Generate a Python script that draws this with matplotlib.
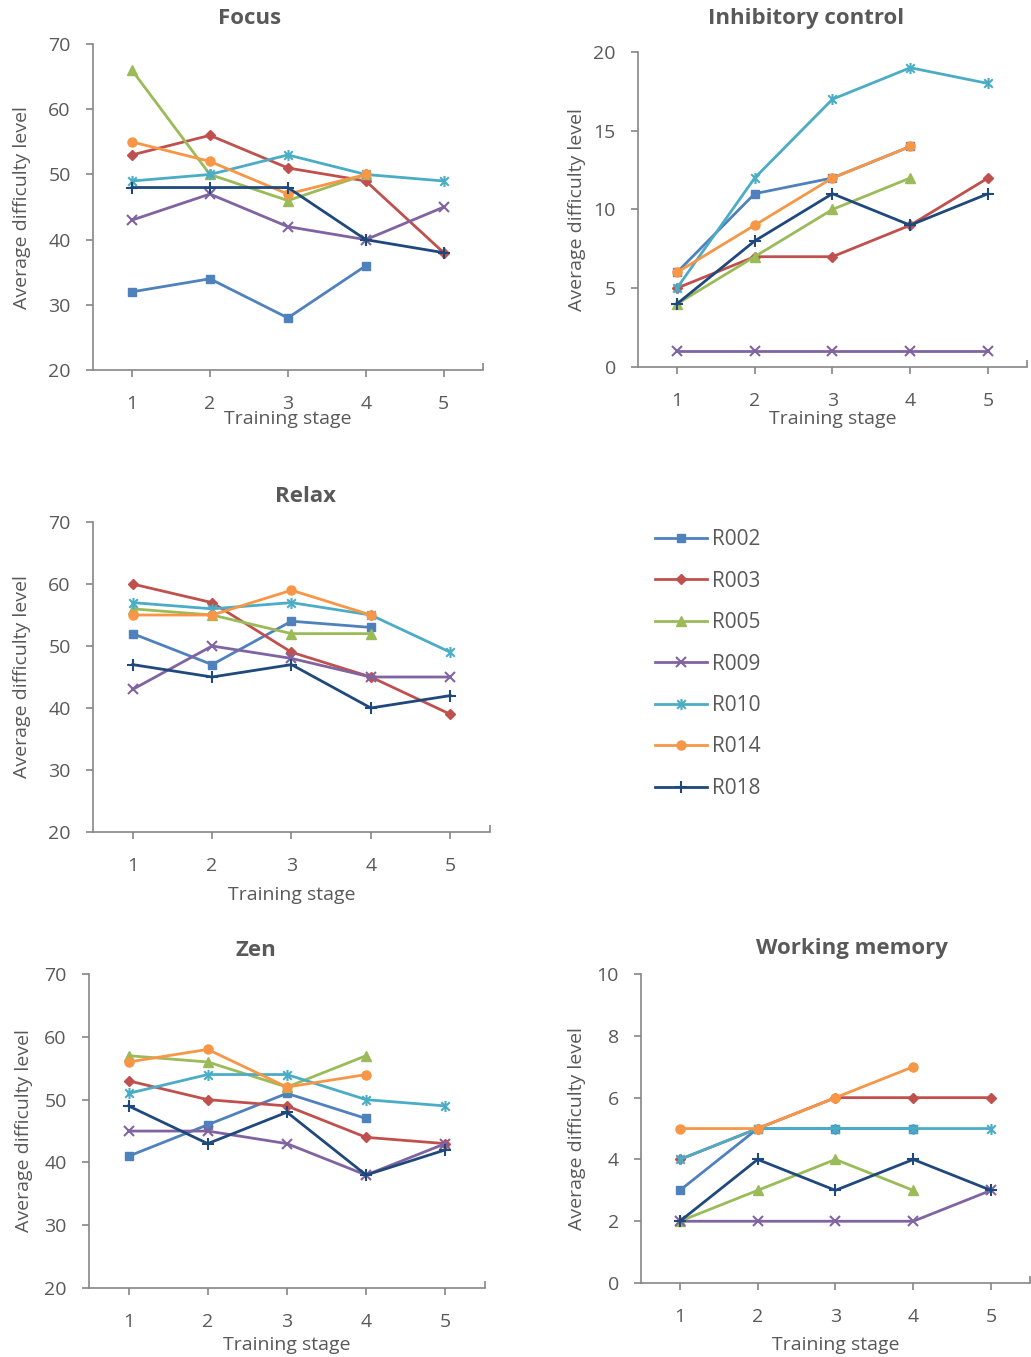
"""
Average difficulty level per training stage, five training games.
"""

import numpy as np
import matplotlib
matplotlib.use("Agg")
import matplotlib.pyplot as plt
from matplotlib.path import Path

nan = np.nan

STAGES = [1, 2, 3, 4, 5]
SUBJECTS = ["R002", "R003", "R005", "R009", "R010", "R014", "R018"]

# 各ゲームの値 (欠損は nan)
FOCUS = {
    "R002": [32, 34, 28, 36, nan],
    "R003": [53, 56, 51, 49, 38],
    "R005": [66, 50, 46, 50, nan],
    "R009": [43, 47, 42, 40, 45],
    "R010": [49, 50, 53, 50, 49],
    "R014": [55, 52, 47, 50, nan],
    "R018": [48, 48, 48, 40, 38],
}
INHIBITORY = {
    "R002": [6, 11, 12, 14, nan],
    "R003": [5, 7, 7, 9, 12],
    "R005": [4, 7, 10, 12, nan],
    "R009": [1, 1, 1, 1, 1],
    "R010": [5, 12, 17, 19, 18],
    "R014": [6, 9, 12, 14, nan],
    "R018": [4, 8, 11, 9, 11],
}
RELAX = {
    "R002": [52, 47, 54, 53, nan],
    "R003": [60, 57, 49, 45, 39],
    "R005": [56, 55, 52, 52, nan],
    "R009": [43, 50, 48, 45, 45],
    "R010": [57, 56, 57, 55, 49],
    "R014": [55, 55, 59, 55, nan],
    "R018": [47, 45, 47, 40, 42],
}
ZEN = {
    "R002": [41, 46, 51, 47, nan],
    "R003": [53, 50, 49, 44, 43],
    "R005": [57, 56, 52, 57, nan],
    "R009": [45, 45, 43, 38, 43],
    "R010": [51, 54, 54, 50, 49],
    "R014": [56, 58, 52, 54, nan],
    "R018": [49, 43, 48, 38, 42],
}
WORKING_MEMORY = {
    "R002": [3, 5, 5, 5, nan],
    "R003": [4, 5, 6, 6, 6],
    "R005": [2, 3, 4, 3, nan],
    "R009": [2, 2, 2, 2, 3],
    "R010": [4, 5, 5, 5, 5],
    "R014": [5, 5, 6, 7, nan],
    "R018": [2, 4, 3, 4, 3],
}

TEXT_COLOR = "#595959"
AXIS_COLOR = "#868686"

# Excel風のアスタリスク (x + 縦線)
STAR = Path(
    [(-1, -1), (1, 1), (-1, 1), (1, -1), (0, -1.3), (0, 1.3)],
    [Path.MOVETO, Path.LINETO, Path.MOVETO, Path.LINETO, Path.MOVETO, Path.LINETO],
)

STYLES = {
    "R002": dict(color="#4F81BD", marker="s", ms=6),
    "R003": dict(color="#C0504D", marker="D", ms=5.5),
    "R005": dict(color="#9BBB59", marker="^", ms=7),
    "R009": dict(color="#8064A2", marker="x", ms=7, mew=1.5),
    "R010": dict(color="#4BACC6", marker=STAR, ms=8, mew=1.5),
    "R014": dict(color="#F79646", marker="o", ms=6.5),
    "R018": dict(color="#1F497D", marker="+", ms=9, mew=1.5),
}


def setup_matplotlib():
    plt.rcParams["font.family"] = ["Open Sans", "DejaVu Sans"]
    plt.rcParams["text.color"] = TEXT_COLOR
    plt.rcParams["axes.labelcolor"] = TEXT_COLOR
    plt.rcParams["xtick.color"] = AXIS_COLOR
    plt.rcParams["ytick.color"] = AXIS_COLOR
    plt.rcParams["xtick.labelcolor"] = TEXT_COLOR
    plt.rcParams["ytick.labelcolor"] = TEXT_COLOR


def draw_panel(fig, rect, data, title, title_xy, ylim, ystep, ylab_x, xlab_y):
    """1つのゲームのパネルを描画"""
    ax = fig.add_axes(rect)
    for name in SUBJECTS:
        st = STYLES[name]
        ax.plot(STAGES, data[name], color=st["color"], lw=2,
                marker=st["marker"], ms=st["ms"], mew=st.get("mew", 1),
                mfc=st["color"], mec=st["color"], label=name)

    ax.set_xlim(0.5, 5.5)
    ax.set_ylim(*ylim)
    ax.set_xticks(STAGES)
    ax.set_xticks([5.5], minor=True)
    ax.set_yticks(np.arange(ylim[0], ylim[1] + 0.1, ystep))
    ax.tick_params(axis="both", labelsize=14, length=5, width=1.2)
    ax.tick_params(axis="x", pad=13)
    ax.tick_params(axis="x", which="minor", direction="in", length=5, width=1.2)
    ax.tick_params(axis="y", pad=11)

    for side in ("top", "right"):
        ax.spines[side].set_visible(False)
    for side in ("left", "bottom"):
        ax.spines[side].set_color(AXIS_COLOR)
        ax.spines[side].set_linewidth(1.2)

    ax.set_xlabel("Training stage", fontsize=14)
    ax.set_ylabel("Average difficulty level", fontsize=14)
    ax.xaxis.set_label_coords(0.5, xlab_y)
    ax.yaxis.set_label_coords(ylab_x, 0.5)

    ax.text(title_xy[0], title_xy[1], title, transform=ax.transAxes,
            ha="center", va="center", fontsize=16, fontweight="bold")
    return ax


def main():
    setup_matplotlib()
    fig = plt.figure(figsize=(10.31, 13.57), dpi=100)

    ax = draw_panel(fig, [0.0902, 0.7273, 0.378, 0.2402], FOCUS, "Focus",
                    (0.403, 1.08), (20, 70), 10, -0.159, -0.122)
    draw_panel(fig, [0.6188, 0.7296, 0.3773, 0.2321], INHIBITORY,
               "Inhibitory control", (0.431, 1.105), (0, 20), 5, -0.134, -0.137)
    draw_panel(fig, [0.0902, 0.3869, 0.385, 0.2284], RELAX, "Relax",
               (0.536, 1.084), (20, 70), 10, -0.156, -0.175)
    draw_panel(fig, [0.0863, 0.0508, 0.384, 0.2314], ZEN, "Zen",
               (0.422, 1.076), (20, 70), 10, -0.141, -0.153)
    draw_panel(fig, [0.6217, 0.0545, 0.3773, 0.2277], WORKING_MEMORY,
               "Working memory", (0.542, 1.084), (0, 10), 2, -0.142, -0.172)

    handles, labels = ax.get_legend_handles_labels()
    fig.legend(handles, labels, loc="upper left",
               bbox_to_anchor=(647 / 1031, 1 - 521 / 1357),
               borderaxespad=0, frameon=False, fontsize=15, labelspacing=0.98,
               handlelength=2.5, handletextpad=0.2)

    fig.savefig("out.png", dpi=100)


if __name__ == "__main__":
    main()
